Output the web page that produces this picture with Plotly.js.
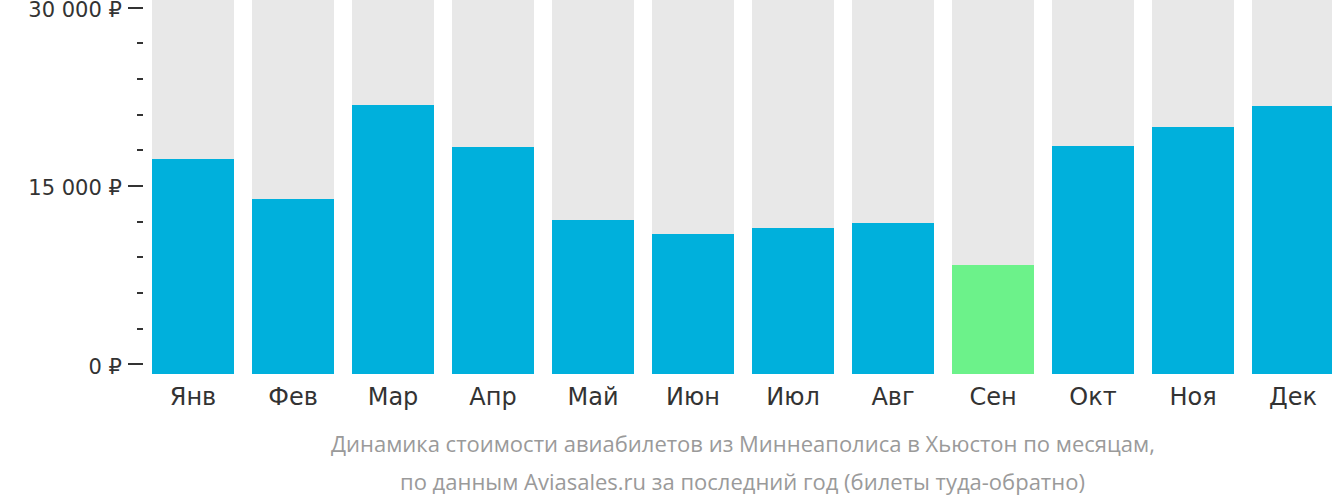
<!DOCTYPE html>
<html>
<head>
<meta charset="utf-8">
<script src="https://cdn.plot.ly/plotly-3.0.1.min.js"></script>
<style>html,body{margin:0;padding:0;background:#fff;}#chart{width:1332px;height:502px;}</style>
</head>
<body>
<div id="chart"></div>
<script>
const months = ["Янв","Фев","Мар","Апр","Май","Июн","Июл","Авг","Сен","Окт","Ноя","Дек"];
const prices = [18070, 14710, 22600, 19080, 12940, 11770, 12270, 12690, 9160, 19160, 20760, 22520];
const cheapestMonth = "Сен";
const maxBackground = 31430;
const tickValues = [0, 15000, 30000];
const tickLabels = ["0 ₽", "15 000 ₽", "30 000 ₽"];
const titleLine1 = "Динамика стоимости авиабилетов из Миннеаполиса в Хьюстон по месяцам,";
const titleLine2 = "по данным Aviasales.ru за последний год (билеты туда-обратно)";

const BLUE = "#00b0dc", GREEN = "#6cf28a", GRAY = "#e8e8e8";
const colors = months.map(m => m === cheapestMonth ? GREEN : BLUE);

const data = [
  {type: "bar", x: months, y: months.map(() => maxBackground), marker: {color: GRAY}, hoverinfo: "skip", showlegend: false},
  {type: "bar", x: months, y: prices, marker: {color: colors}, showlegend: false},
  {type: "scatter", x: [], y: [], yaxis: "y2", showlegend: false}
];

const font = "'Open Sans', sans-serif";
const tickFont = "'DejaVu Sans', sans-serif";
const layout = {
  width: 1332, height: 502,
  margin: {l: 143, r: 0, t: 0, b: 128, pad: 0},
  paper_bgcolor: "#fff", plot_bgcolor: "rgba(0,0,0,0)",
  barmode: "overlay", bargap: 0.18,
  font: {family: font, color: "#333"},
  xaxis: {
    type: "category", range: [-0.5, 11.39], fixedrange: true,
    showgrid: false, zeroline: false, showline: false, ticks: "",
    tickfont: {family: tickFont, size: 24, color: "#333"}, ticklabelstandoff: 6
  },
  yaxis: {
    range: [0, maxBackground], showgrid: false, zeroline: false, showline: false,
    ticks: "", showticklabels: false, domain: [0, 1]
  },
  yaxis2: {
    anchor: "free", position: 0, side: "left",
    domain: [0.0254, 0.9799], range: [0, 30000],
    showgrid: false, zeroline: false, showline: false,
    tickmode: "array", tickvals: tickValues, ticktext: tickLabels,
    ticks: "outside", ticklen: 15, tickwidth: 2, tickcolor: "#333",
    minor: {dtick: 3000, tick0: 0, ticks: "outside", ticklen: 6, tickwidth: 2, tickcolor: "#333"},
    tickfont: {family: tickFont, size: 21, color: "#333"}, ticklabelstandoff: 2,
    ticklabelshift: 2, ticklabeloverflow: "allow"
  },
  annotations: [
    {text: titleLine1, xref: "paper", yref: "paper", x: 0.5046, y: -0.185, xanchor: "center", yanchor: "middle", showarrow: false, font: {family: font, size: 22, color: "#9a9a9a"}},
    {text: titleLine2, xref: "paper", yref: "paper", x: 0.5046, y: -0.287, xanchor: "center", yanchor: "middle", showarrow: false, font: {family: font, size: 22, color: "#9a9a9a"}}
  ]
};

Plotly.newPlot("chart", data, layout, {displayModeBar: false, staticPlot: true});
</script>
</body>
</html>
